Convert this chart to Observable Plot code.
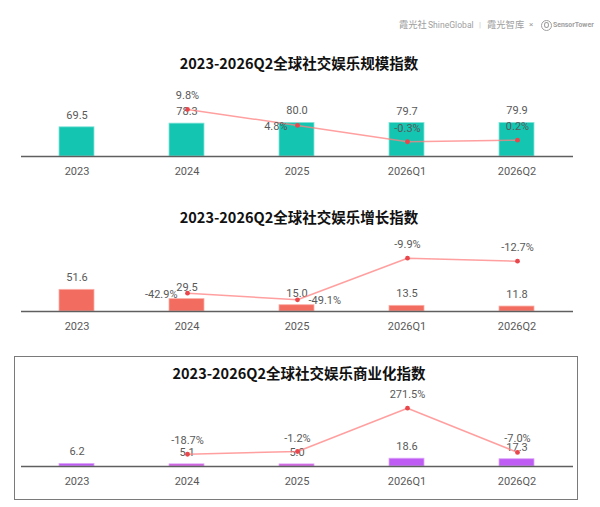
<!DOCTYPE html>
<html><head><meta charset="utf-8">
<script src="https://cdn.jsdelivr.net/npm/d3@7"></script>
<script src="https://cdn.jsdelivr.net/npm/@observablehq/plot@0.6"></script>
<style>
body{margin:0;background:#fff;}
#page{position:relative;width:600px;height:507px;overflow:hidden;font-family:Roboto,"Noto Sans CJK SC",sans-serif;background:#fff;}
.title{position:absolute;left:299px;transform:translate(-50%,-50%);font-family:"Noto Sans CJK SC",sans-serif;font-weight:700;font-size:14.5px;color:#111;white-space:nowrap;}
.chart{position:absolute;left:0;width:600px;height:130px;}
.chart svg{position:absolute;left:0;top:0;}
#box{position:absolute;left:14px;top:356px;width:562px;height:142px;border:1.5px solid #7a7a7a;}
.h{position:absolute;top:25px;transform:translateY(-50%);color:#a0a0a0;white-space:nowrap;line-height:1;}
#icon{position:absolute;left:541px;top:19.5px;width:9px;height:9px;border:1.3px solid #a0a0a0;border-radius:50%;}
#icon::after{content:"";position:absolute;left:2.3px;top:1.6px;width:2.8px;height:4px;border:1.2px solid #a0a0a0;border-radius:50%;}
</style></head>
<body>
<div id="page">
  <span class="h" style="left:399px;font-family:'Noto Sans CJK SC';font-size:9.3px;">霞光社</span>
  <span class="h" style="left:428px;font-family:Roboto;font-size:8.6px;">ShineGlobal</span>
  <span class="h" style="left:479px;font-family:Roboto;font-size:8px;color:#c8c8c8;">|</span>
  <span class="h" style="left:487px;font-family:'Noto Sans CJK SC';font-size:9.3px;">霞光智库</span>
  <span class="h" style="left:529px;font-family:Roboto;font-size:8px;">×</span>
  <div id="icon"></div>
  <span class="h" style="left:553px;font-family:Roboto;font-size:6.9px;font-weight:700;">SensorTower</span>
  <div id="box"></div>
</div>
<script>
const categories = ["2023", "2024", "2025", "2026Q1", "2026Q2"];
const titles = [
  "2023-2026Q2全球社交娱乐规模指数",
  "2023-2026Q2全球社交娱乐增长指数",
  "2023-2026Q2全球社交娱乐商业化指数"
];
// 规模指数
const scaleIndex  = [69.5, 78.3, 80.0, 79.7, 79.9];
const scaleGrowth = [null, 9.8, 4.8, -0.3, 0.2];
const scaleLabelPos = [null, "top", "left", "top", "top"];
// 增长指数
const growthIndex  = [51.6, 29.5, 15.0, 13.5, 11.8];
const growthGrowth = [null, -42.9, -49.1, -9.9, -12.7];
const growthLabelPos = [null, "left", "right", "top", "top"];
// 商业化指数
const commIndex  = [6.2, 5.1, 5.0, 18.6, 17.3];
const commGrowth = [null, -18.7, -1.2, 271.5, -7.0];
const commLabelPos = [null, "top", "top", "top", "top"];

const charts = [
  {title: titles[0], index: scaleIndex, growth: scaleGrowth, pos: scaleLabelPos,
   fill: "#14C6B2", edge: "#86E3D8", alt: {}, baseline: 156, titleY: 61.5, y0: 140.3, k: 3.2},
  {title: titles[1], index: growthIndex, growth: growthGrowth, pos: growthLabelPos,
   fill: "#F36C60", edge: "#FBB0A8", alt: {}, baseline: 311, titleY: 215.7, y0: 247.2, k: 1.061},
  {title: titles[2], index: commIndex, growth: commGrowth, pos: commLabelPos,
   fill: "#BE5CF4", edge: "#DDA8FA", alt: {"2024": "#CF53D8", "2025": "#CF53D8"}, baseline: 466, titleY: 371.7, y0: 450.8, k: 0.1588}
];

const page = document.getElementById("page");
const H = 130, MB = 24, ML = 21, MR = 27;
const plotH = H - MB;
const barPx = 0.42;
const xOpts = {domain: categories, paddingInner: 0.68, paddingOuter: 0.34};
const baseStyle = {background: "transparent", overflow: "visible", fontFamily: "Roboto, sans-serif", fontSize: "11px", color: "#595959"};
const labelColor = "#595959";

charts.forEach(c => {
  const t = document.createElement("div");
  t.className = "title";
  t.style.top = c.titleY + "px";
  t.textContent = c.title;
  page.appendChild(t);

  const svgTop = c.baseline - plotH;
  const holder = document.createElement("div");
  holder.className = "chart";
  holder.style.top = svgTop + "px";
  page.appendChild(holder);

  const bars = categories.map((cat, i) => ({cat, value: c.index[i], color: c.alt[cat] || c.fill}));
  const pts = categories.map((cat, i) => ({cat, g: c.growth[i], pos: c.pos[i]})).filter(d => d.g != null);

  const barPlot = Plot.plot({
    width: 600, height: H, marginLeft: ML, marginRight: MR, marginTop: 0, marginBottom: MB,
    x: {...xOpts, tickSize: 0, tickPadding: 10.5, label: null},
    y: {axis: null, domain: [0, plotH / barPx]},
    style: baseStyle,
    marks: [
      Plot.barY(bars, {x: "cat", y: "value", fill: "color", stroke: c.edge, strokeWidth: 0.8}),
      Plot.ruleY([0], {stroke: "#5f5f5f", strokeWidth: 1.6}),
      Plot.text(bars, {x: "cat", y: "value", text: d => d.value.toFixed(1), dy: -12, fill: labelColor, fontSize: 11})
    ]
  });
  holder.appendChild(barPlot);

  const off = c.y0 - svgTop;
  const lineDomain = [(off - plotH) / c.k, off / c.k];
  const fmt = d => d.g.toFixed(1) + "%";
  const linePlot = Plot.plot({
    width: 600, height: H, marginLeft: ML, marginRight: MR, marginTop: 0, marginBottom: MB,
    x: {...xOpts, axis: null},
    y: {axis: null, domain: lineDomain},
    style: baseStyle,
    marks: [
      Plot.lineY(pts, {x: "cat", y: "g", stroke: "#FF7F7F", strokeWidth: 1.5, strokeOpacity: 0.75}),
      Plot.dot(pts, {x: "cat", y: "g", r: 2.4, fill: "#E8474C"}),
      Plot.text(pts.filter(d => d.pos === "top"), {x: "cat", y: "g", text: fmt, dy: -13.5, fill: labelColor, fontSize: 11}),
      Plot.text(pts.filter(d => d.pos === "left"), {x: "cat", y: "g", text: fmt, dx: -10, dy: 1, textAnchor: "end", fill: labelColor, fontSize: 11}),
      Plot.text(pts.filter(d => d.pos === "right"), {x: "cat", y: "g", text: fmt, dx: 11, dy: 1, textAnchor: "start", fill: labelColor, fontSize: 11})
    ]
  });
  holder.appendChild(linePlot);
});
</script>
</body></html>
